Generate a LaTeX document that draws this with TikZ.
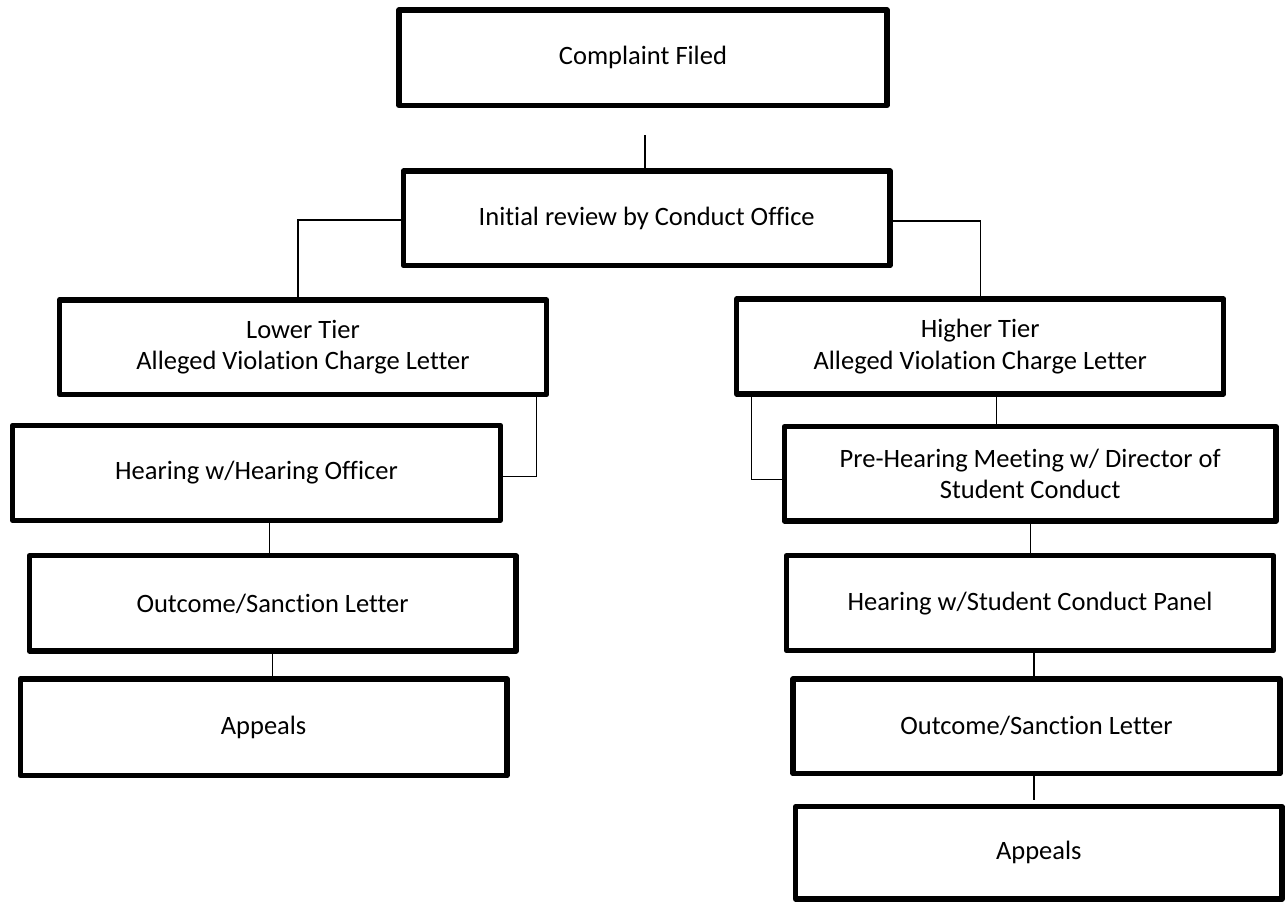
\documentclass[tikz,border=0pt]{standalone}
\usepackage{fontspec}
\setmainfont{Carlito}[Ligatures=NoCommon]
\begin{document}
\begin{tikzpicture}[x=1pt,y=-1pt,
  box/.style={draw=black,line width=5.3pt,line join=round,fill=white,
    minimum width=487pt,minimum height=95pt,inner sep=0pt,outer sep=0pt,
    align=center,font=\fontsize{26.5pt}{31.5pt}\selectfont},
  conn/.style={draw=black,line width=1.3pt}]
\useasboundingbox (0,0) rectangle (1288,903);
\fill[white] (0,0) rectangle (1288,903);
% nodes
\node[box,minimum width=488pt,minimum height=95.3pt] (complaint) at (643,57.7) {Complaint Filed};
\node[box,minimum width=486.6pt,minimum height=94.7pt] (initial) at (646.7,218.3) {Initial review by Conduct Office};
\node[box,minimum width=487.4pt,minimum height=94.5pt] (lower) at (303,347.2) {Lower Tier\\Alleged Violation Charge Letter};
\node[box,minimum width=487pt,minimum height=95pt] (higher) at (980.2,346.5) {Higher Tier\\Alleged Violation Charge Letter};
\node[box,minimum width=487.8pt,minimum height=95pt] (hofficer) at (256.5,472.8) {Hearing w/Hearing Officer};
\node[box,minimum width=491.6pt,minimum height=94.3pt] (prehear) at (1030.2,473.8) {Pre-Hearing Meeting w/ Director of\\Student Conduct};
\node[box,minimum width=486.8pt,minimum height=95.2pt] (outL) at (272.6,603.4) {Outcome/Sanction Letter};
\node[box,minimum width=487.4pt,minimum height=95pt] (panel) at (1030,603.2) {Hearing w/Student Conduct Panel};
\node[box,minimum width=486.8pt,minimum height=96.7pt] (appL) at (263.6,727.3) {Appeals};
\node[box,minimum width=487pt,minimum height=94.7pt] (outR) at (1036.5,726.3) {Outcome/Sanction Letter};
\node[box,minimum width=486.3pt,minimum height=92.3pt] (appR) at (1038.8,852.8) {Appeals};
% free ends
\coordinate (c1) at (645,135);
\coordinate (c2) at (1034,800);
% connectors
\draw[conn] (c1) -- (c1 |- initial.north);
\draw[conn] ([yshift=-1.7pt]initial.west) -| ([xshift=-5pt]lower.north);
\draw[conn] ([yshift=-2.7pt]initial.east) -| (higher.north);
\draw[conn] ([xshift=-10pt]lower.south east) |- ([yshift=-4pt]hofficer.east);
\draw[conn] ([xshift=15pt]higher.south west) |- ([yshift=-6pt]prehear.west);
\draw[conn] ([xshift=16pt]higher.south) -- ([xshift=16pt]higher.south |- prehear.north);
\draw[conn] ([xshift=13pt]hofficer.south) -- ([xshift=13pt]hofficer.south |- outL.north);
\draw[conn] (outL.south) -- (outL.south |- appL.north);
\draw[conn] (prehear.south) -- (prehear.south |- panel.north);
\draw[conn] ([xshift=4pt]panel.south) -- ([xshift=4pt]panel.south |- outR.north);
\draw[conn] (c2 |- outR.south) -- (c2);
\end{tikzpicture}
\end{document}
